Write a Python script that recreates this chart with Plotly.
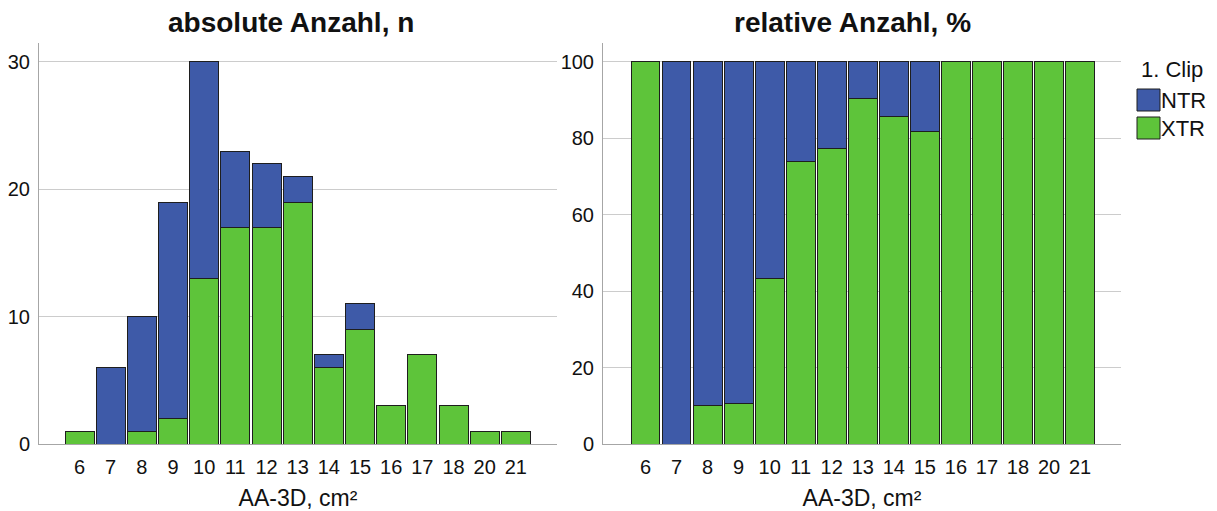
import plotly.graph_objects as go

# The page body has an 8px default margin, so the figure is drawn 8px in and 8px down.
OFF = 8
W, H = 1217 - OFF, 511 - OFF

categories = ["6", "7", "8", "9", "10", "11", "12", "13", "14", "15", "16", "17", "18", "20", "21"]
xtr_n = [1, 0, 1, 2, 13, 17, 17, 19, 6, 9, 3, 7, 3, 1, 1]
ntr_n = [0, 6, 9, 17, 17, 6, 5, 2, 1, 2, 0, 0, 0, 0, 0]
xtr_pct = [100, 0, 10, 10.5, 43.3, 73.9, 77.3, 90.5, 85.7, 81.8, 100, 100, 100, 100, 100]
ntr_pct = [0, 100, 90, 89.5, 56.7, 26.1, 22.7, 9.5, 14.3, 18.2, 0, 0, 0, 0, 0]

BLUE = "#3e5aa8"
GREEN = "#5ec43a"
EDGE = "#1e1e1e"
FONT = "Liberation Sans, Arial, sans-serif"

def px(x):
    return (x - OFF) / W

def py(y):
    return 1 - (y - OFF) / H

fig = go.Figure()
line = dict(color=EDGE, width=1)
fig.add_bar(x=categories, y=xtr_n, name="XTR", marker=dict(color=GREEN, line=line),
            xaxis="x", yaxis="y", showlegend=False)
fig.add_bar(x=categories, y=ntr_n, name="NTR", marker=dict(color=BLUE, line=line),
            xaxis="x", yaxis="y", showlegend=False)
fig.add_bar(x=categories, y=xtr_pct, name="XTR", marker=dict(color=GREEN, line=line),
            xaxis="x2", yaxis="y2", showlegend=False)
fig.add_bar(x=categories, y=ntr_pct, name="NTR", marker=dict(color=BLUE, line=line),
            xaxis="x2", yaxis="y2", showlegend=False)

ydom = [py(444), py(43)]
axis_common = dict(showline=True, linecolor="#a6a6a6", linewidth=1, ticks="",
                   tickfont=dict(size=20, color="#111"), zeroline=False, automargin=False)
xcommon = dict(axis_common, type="category", showgrid=False,
               ticklabelstandoff=5,
               title=dict(text="AA-3D, cm²", font=dict(size=23, color="#111"), standoff=12))
ycommon = dict(axis_common, showgrid=True, gridcolor="#cccccc", gridwidth=1,
               ticklabelstandoff=4)

fig.update_layout(
    template="none",
    width=W, height=H,
    margin=dict(l=0, r=0, t=0, b=0, autoexpand=False),
    paper_bgcolor="white", plot_bgcolor="white",
    font=dict(family=FONT, color="#111"),
    barmode="stack", bargap=0.07,
    xaxis=dict(xcommon, domain=[px(39), px(557)], range=[-1.3, 15.32], anchor="y"),
    yaxis=dict(ycommon, domain=ydom, range=[0, 31.49], tickvals=[0, 10, 20, 30], anchor="x"),
    xaxis2=dict(xcommon, domain=[px(603), px(1121)], range=[-1.37, 15.32], anchor="y2"),
    yaxis2=dict(ycommon, domain=ydom, range=[0, 104.97], tickvals=[0, 20, 40, 60, 80, 100], anchor="x2"),
)

# subplot titles
for text, cx in [("absolute Anzahl, n", 291), ("relative Anzahl, %", 852)]:
    fig.add_annotation(text=f"<b>{text}</b>", x=px(cx), y=py(22), xref="paper", yref="paper",
                       xanchor="center", yanchor="middle", showarrow=False,
                       font=dict(size=28, color="#111", family=FONT))

# legend (drawn manually to match swatch size)
fig.add_annotation(text="1. Clip", x=px(1139), y=py(69), xref="paper", yref="paper",
                   xanchor="left", yanchor="middle", showarrow=False,
                   font=dict(size=22, color="#111", family=FONT))
for name, color, top in [("NTR", BLUE, 89), ("XTR", GREEN, 117)]:
    fig.add_shape(type="rect", xref="paper", yref="paper",
                  x0=px(1137), x1=px(1160), y0=py(top + 22), y1=py(top),
                  fillcolor=color, line=dict(color=EDGE, width=1))
    fig.add_annotation(text=name, x=px(1159), y=py(top + 11.5), xref="paper", yref="paper",
                       xanchor="left", yanchor="middle", showarrow=False,
                       font=dict(size=22, color="#111", family=FONT))

fig.write_html("out.html")
